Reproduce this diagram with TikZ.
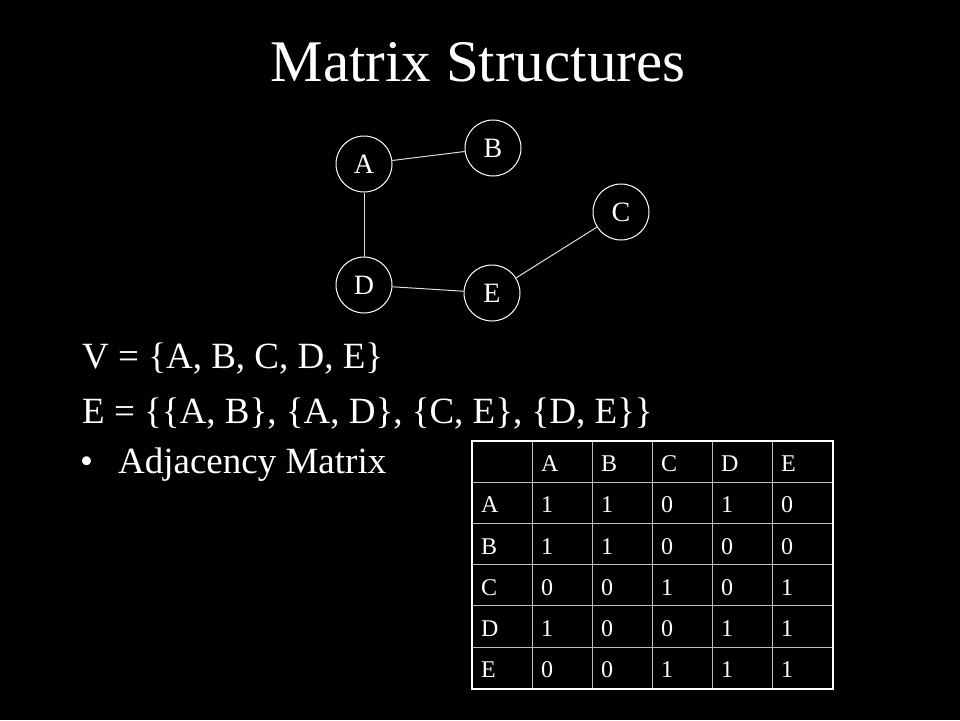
\documentclass[tikz,border=0pt]{standalone}
\usepackage{fontspec}
\setmainfont{Liberation Serif}
\usepackage{tikz}
\usetikzlibrary{positioning}
\usepackage{xcolor}
\definecolor{slidebg}{RGB}{0,0,0}
\definecolor{edgegrey}{RGB}{220,220,220}
\definecolor{gridgrey}{RGB}{190,190,190}
\tikzstyle{vertex} = [circle, draw=white, line width=1pt, minimum size=56pt, inner sep=0pt, text=white, font=\fontsize{28}{30}\selectfont]
\tikzstyle{edge} = [draw=edgegrey, line width=1pt]
\tikzstyle{bodytext} = [anchor=base west, inner sep=0pt, text=white, font=\fontsize{37}{40}\selectfont]
\tikzstyle{cell} = [rectangle, draw=gridgrey, line width=1pt, minimum width=60pt, minimum height=41.2pt, text width=42pt, align=left, inner xsep=9pt, inner ysep=0pt, text height=20pt, text depth=0pt, text=white, font=\fontsize{24}{26}\selectfont]

\begin{document}
\begin{tikzpicture}[x=1pt, y=-1pt]
\fill[slidebg] (0,0) rectangle (960,720);
\useasboundingbox (0,0) rectangle (960,720);

% Title
\node[anchor=base, inner sep=0pt, text=white, font=\fontsize{59}{62}\selectfont] (title) at (478,81.7) {Matrix Structures};

% Graph
\node[vertex] (A) at (364,164) {A};
\node[vertex] (B) at (493,148) {B};
\node[vertex] (C) at (621,212) {C};
\node[vertex] (D) at (364,285) {D};
\node[vertex] (E) at (492,293) {E};
\draw[edge] (A) -- (B);
\draw[edge] (A) -- (D);
\draw[edge] (D) -- (E);
\draw[edge] (E) -- (C);

% Sets
\node[bodytext] (vset) at (82,368) {V = \{A, B, C, D, E\}};
\node[bodytext] (eset) at (82,423) {E = \{\{A, B\}, \{A, D\}, \{C, E\}, \{D, E\}\}};
\node[bodytext] (item) at (80,473) {\textbullet\hspace{25pt}Adjacency Matrix};

% Adjacency matrix
\foreach \row [count=\r from 0] in {{{},A,B,C,D,E},{A,1,1,0,1,0},{B,1,1,0,0,0},{C,0,0,1,0,1},{D,1,0,0,1,1},{E,0,0,1,1,1}}{
  \foreach \v [count=\c from 0] in \row {
    \node[cell] (cell-\r-\c) at (502+60*\c, 461.6+41.2*\r) {\v};
  }
}
\draw[white, line width=2pt] (cell-0-0.north west) rectangle (cell-5-5.south east);
\end{tikzpicture}
\end{document}
